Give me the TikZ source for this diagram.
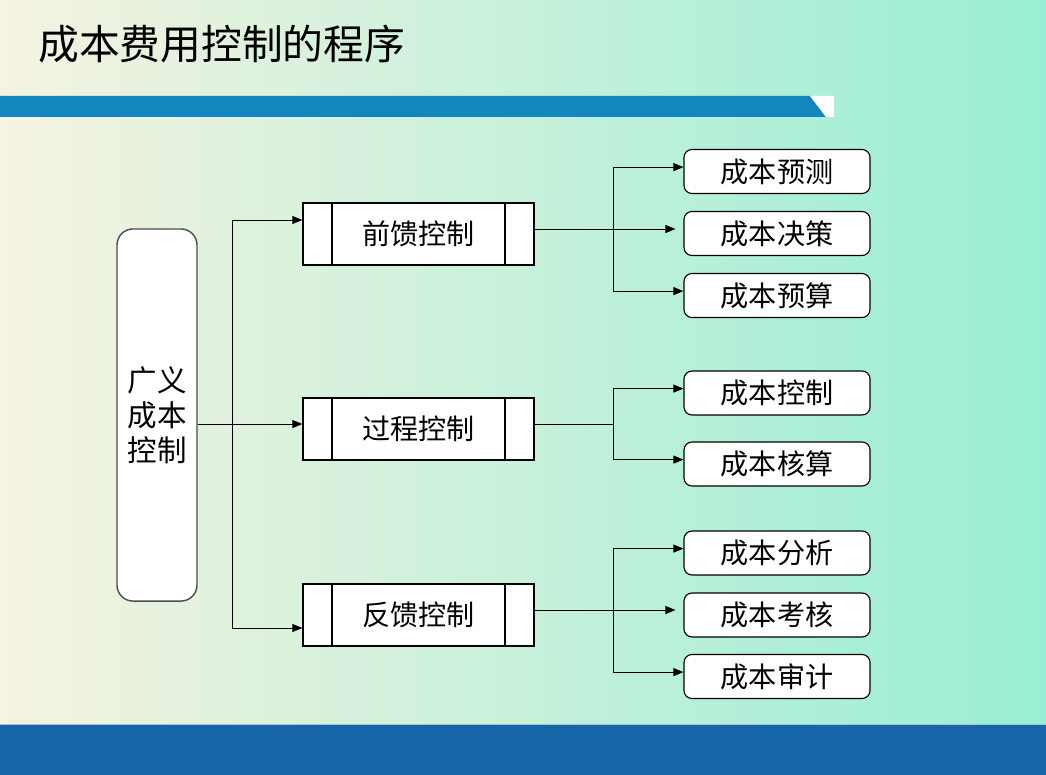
\documentclass[tikz,border=0pt]{standalone}
\usepackage{fontspec}
\setmainfont{Noto Sans CJK SC}
\usetikzlibrary{arrows.meta}
\definecolor{bgleft}{RGB}{245,243,225}
\definecolor{bgmid}{RGB}{222,240,218}
\definecolor{bgright}{RGB}{152,238,212}
\definecolor{barblue}{RGB}{19,134,192}
\definecolor{footblue}{RGB}{21,101,168}
\tikzset{
  procbox/.style={draw, fill=white, line width=0.9pt, minimum width=5.775cm,
    minimum height=1.55cm, font=\fontsize{20}{24}\selectfont,
    path picture={
      \draw[line width=0.9pt] ([xshift=0.725cm]path picture bounding box.north west)
        -- ([xshift=0.725cm]path picture bounding box.south west);
      \draw[line width=0.9pt] ([xshift=-0.725cm]path picture bounding box.north east)
        -- ([xshift=-0.725cm]path picture bounding box.south east);}},
  itembox/.style={draw, fill=white, rounded corners=0.2cm, line width=0.8pt,
    minimum width=4.65cm, minimum height=1.1cm, font=\fontsize{20}{24}\selectfont},
  line/.style={line width=0.7pt},
  link/.style={line width=0.7pt, -{Triangle[length=2.5mm,width=2mm]}},
}
\begin{document}
\begin{tikzpicture}[x=0.025cm, y=-0.025cm]
  \useasboundingbox (0,0) rectangle (1046,775);
  % background and bars
  \shade[left color=bgleft, middle color=bgmid, right color=bgright] (0,0) rectangle (1046,775);
  \fill[barblue] (0,96) -- (810,96) -- (826,117) -- (0,117) -- cycle;
  \fill[white] (810,96) -- (834,96) -- (834,117) -- (826,117) -- cycle;
  \fill[footblue] (0,725) rectangle (1046,775);
  \draw[white!60!footblue, line width=0.6pt] (0,724.5) -- (1046,724.5);
  \node[anchor=west, font=\fontsize{29}{34}\selectfont, inner sep=0pt] (title) at (38,44) {成本费用控制的程序};

  % left box
  \node[draw=black!70, fill=white, line width=1pt, rounded corners=0.4cm,
        minimum width=2cm, minimum height=9.3cm, align=center,
        font=\fontsize{21}{25}\selectfont] (gy) at (157,415) {广义\\成本\\控制};

  % middle boxes
  \node[procbox] (qk) at (418.5,234) {前馈控制};
  \node[procbox] (gc) at (418.5,429) {过程控制};
  \node[procbox] (fk) at (418.5,615) {反馈控制};

  % right boxes
  \node[itembox] (yc) at (777,171.5) {成本预测};
  \node[itembox] (jc) at (777,233.5) {成本决策};
  \node[itembox] (ys) at (777,295.5) {成本预算};
  \node[itembox] (kz) at (777,393) {成本控制};
  \node[itembox] (hs) at (777,464) {成本核算};
  \node[itembox] (fx) at (777,553) {成本分析};
  \node[itembox] (kh) at (777,615) {成本考核};
  \node[itembox] (sj) at (777,676.5) {成本审计};

  % left connectors
  \coordinate (j1) at (232,220);
  \coordinate (j2) at (232,424);
  \coordinate (j3) at (232,628);
  \draw[line] (gy.east |- j2) -- (j2);
  \draw[line] (j1) -- (j3);
  \draw[link] (j1) -- (j1 -| qk.west);
  \draw[link] (j2) -- (j2 -| gc.west);
  \draw[link] (j3) -- (j3 -| fk.west);

  % right connectors
  \coordinate (q) at (613,229);
  \draw[line] (qk.east |- q) -- (q);
  \draw[link, shorten >=0.2cm] (q) -- (q -| jc.west);
  \draw[link] (q) |- ([yshift=1.1mm]yc.west);
  \draw[link] (q) |- ([yshift=1.1mm]ys.west);

  \coordinate (g) at (613,424);
  \draw[line] (gc.east |- g) -- (g);
  \draw[link] (g) |- ([yshift=1.1mm]kz.west);
  \draw[link] (g) |- ([yshift=1.1mm]hs.west);

  \coordinate (f) at (613,610);
  \draw[line] (fk.east |- f) -- (f);
  \draw[link, shorten >=0.2cm] (f) -- (f -| kh.west);
  \draw[link] (f) |- ([yshift=1.1mm]fx.west);
  \draw[link] (f) |- ([yshift=1.1mm]sj.west);
\end{tikzpicture}
\end{document}
